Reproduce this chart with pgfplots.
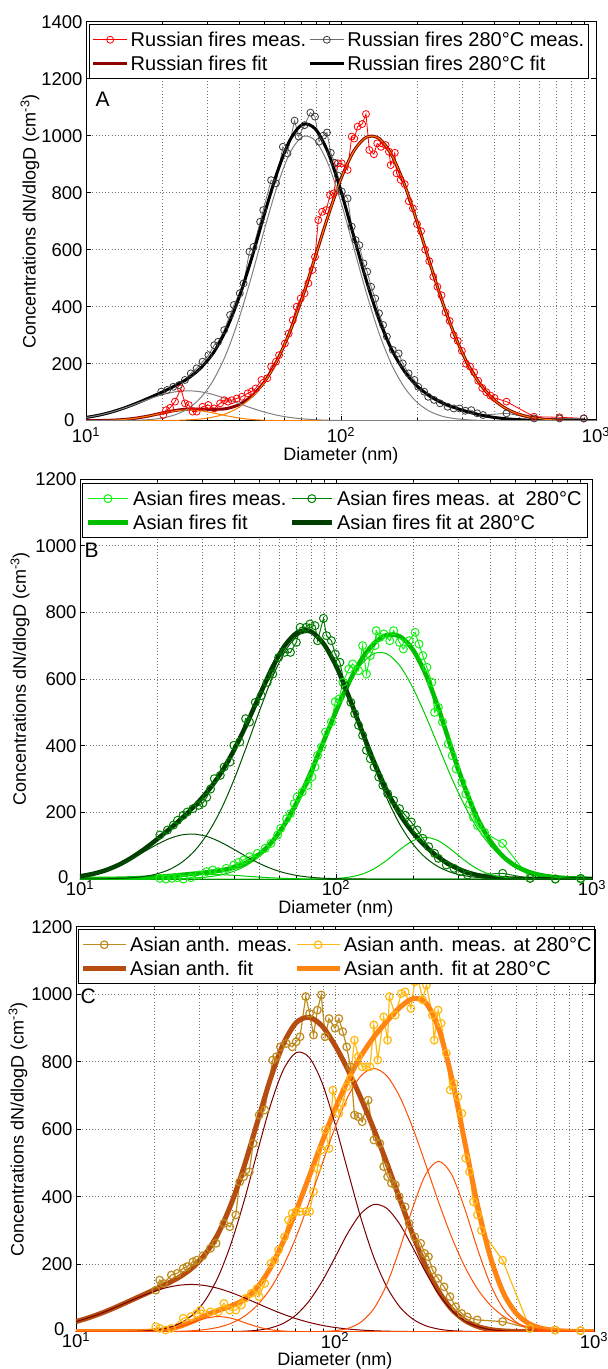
\documentclass[border=0pt]{standalone}
\usepackage{fontspec}
\setmainfont{Liberation Sans}
\usepackage{pgfplots}
\pgfplotsset{compat=1.18}
\newcommand\fsT{\fontsize{18.5}{22}\selectfont}
\newcommand\fsL{\fontsize{18}{22}\selectfont}
\newcommand\fsG{\fontsize{20}{23}\selectfont}
\newcommand\fsP{\fontsize{21}{24}\selectfont}
\newcommand\zerolab[1]{\raisebox{#1}{0}\rule{8pt}{0pt}}
\definecolor{rf}{RGB}{255,0,0}
\definecolor{rffit}{RGB}{140,0,0}
\definecolor{rmode}{RGB}{255,128,0}
\definecolor{gmode}{RGB}{128,128,128}
\definecolor{bline}{RGB}{110,110,110}
\definecolor{bmark}{RGB}{55,55,55}
\definecolor{afm}{RGB}{20,240,20}
\definecolor{aff}{RGB}{0,190,0}
\definecolor{afmode}{RGB}{0,205,0}
\definecolor{afm2}{RGB}{0,125,0}
\definecolor{aff2}{RGB}{0,62,0}
\definecolor{afmode2}{RGB}{0,80,0}
\definecolor{aam}{RGB}{190,140,30}
\definecolor{aam2}{RGB}{255,185,20}
\definecolor{aaf}{RGB}{182,76,16}
\definecolor{aaf2}{RGB}{255,132,18}
\definecolor{maroon}{RGB}{120,0,0}
\definecolor{ored}{RGB}{255,80,0}
% x values are log10 of the diameter in nm (log-labelled axis)
\pgfplotsset{
  base/.style={
    scale only axis,
    xmin=1, xmax=3, ymin=0,
    xtick={1,2,3},
    xticklabels={10\textsuperscript{1},10\textsuperscript{2},10\textsuperscript{3}},
    minor xtick={1.30103,1.47712,1.60206,1.69897,1.77815,1.84510,1.90309,1.95424,2.30103,2.47712,2.60206,2.69897,2.77815,2.84510,2.90309,2.95424},
    tick align=inside,
    major tick length=5pt, minor tick length=3pt,
    tick style={black, line width=0.6pt},
    xmajorgrids, xminorgrids, ymajorgrids,
    major grid style={black!55, line width=0.6pt, dash pattern=on 0.6pt off 2.6pt},
    minor grid style={black!55, line width=0.6pt, dash pattern=on 0.6pt off 2.6pt},
    axis line style={line width=0.8pt},
    tick label style={font=\fsT},
    label style={font=\fsL},
    xlabel={Diameter (nm)},
    ylabel={Concentrations dN/dlogD (cm\textsuperscript{-3})},
    legend columns=2,
    legend cell align=left,
    legend style={font=\fsG, draw=black, line width=1.3pt, fill=white, inner ysep=5pt,
      row sep=4pt,
      /tikz/every even column/.append style={column sep=0pt}},
  },
  lim/.style={legend image code/.code={\draw[mark repeat=2,mark phase=2,##1] plot coordinates {(0pt,0pt) (#1,0pt) (2*#1,0pt)};}},
}
\begin{document}
\begin{tikzpicture}
\path[use as bounding box] (0pt,0pt) rectangle (608pt,-1369pt);

%================ A =================
\begin{axis}[base, lim=17pt,
  at={(86pt,-420.7pt)}, anchor=south west, width=510pt, height=399pt,
  ymax=1400,
  ytick={0,200,400,600,800,1000,1200,1400},
  yticklabels={\zerolab{2pt},200,400,600,800,1000,1200,1400},
  xticklabel style={yshift=-3pt},
  xlabel style={at={(axis description cs:0.5,-0.087)}, anchor=center},
  ylabel style={at={(axis description cs:-0.1098,0.5)}, anchor=center},
  legend style={at={(0.006,0.994)}, anchor=north west, inner xsep=2pt, nodes={inner xsep=2pt, inner ysep=2pt}},
]
\addplot[rf, line width=0.8pt, mark=o, mark size=3.5pt] coordinates {
(1.303,20)(1.314,37)(1.330,45)(1.349,67)(1.372,113)(1.388,61)(1.403,55)(1.418,32)(1.434,32)(1.457,49)(1.480,55)(1.503,43)(1.526,61)(1.542,72)(1.557,67)(1.572,72)(1.591,78)(1.611,84)(1.634,96)(1.649,102)(1.665,113)(1.688,143)(1.711,149)(1.726,190)(1.745,207)(1.757,230)(1.780,271)(1.795,306)(1.811,353)(1.826,400)(1.842,429)(1.857,447)(1.872,482)(1.888,529)(1.898,575)(1.911,704)(1.926,733)(1.942,739)(1.957,792)(1.972,798)(1.988,903)(2.003,903)(2.026,880)(2.042,997)(2.052,990)(2.065,1032)(2.083,1041)(2.098,1076)(2.111,950)(2.129,935)(2.142,973)(2.157,961)(2.175,967)(2.188,944)(2.195,897)(2.211,940)(2.218,868)(2.234,845)(2.250,830)(2.266,770)(2.282,745)(2.298,690)(2.314,665)(2.330,600)(2.346,560)(2.362,505)(2.378,470)(2.394,440)(2.410,380)(2.426,350)(2.442,300)(2.458,280)(2.474,245)(2.490,200)(2.506,190)(2.522,170)(2.538,140)(2.554,115)(2.570,100)(2.586,88)(2.602,80)(2.649,67)(2.757,14)(2.857,12)(2.952,8)};
\addlegendentry{Russian fires meas.}
\addplot[bline, line width=0.8pt, mark=o, mark size=3.5pt, mark options={draw=bmark}] coordinates {
(1.295,102)(1.318,108)(1.342,119)(1.365,125)(1.388,143)(1.411,166)(1.434,184)(1.457,207)(1.480,230)(1.503,265)(1.518,277)(1.542,318)(1.565,371)(1.580,406)(1.603,447)(1.618,482)(1.641,593)(1.657,610)(1.683,698)(1.695,739)(1.726,844)(1.745,833)(1.772,961)(1.790,938)(1.818,1053)(1.834,997)(1.857,1037)(1.880,1081)(1.898,1067)(1.914,979)(1.930,1000)(1.945,1011)(1.960,940)(1.975,905)(1.988,860)(2.003,804)(2.026,780)(2.042,681)(2.057,634)(2.072,616)(2.088,552)(2.103,523)(2.118,470)(2.134,429)(2.149,377)(2.165,336)(2.180,295)(2.203,248)(2.226,236)(2.242,201)(2.265,166)(2.288,143)(2.303,119)(2.326,102)(2.342,84)(2.365,73)(2.388,61)(2.418,49)(2.442,43)(2.465,43)(2.488,35)(2.511,37)(2.534,26)(2.557,20)(2.649,26)(2.757,8)(2.857,8)(2.952,8)};
\addlegendentry{Russian fires 280°C meas.}
\addplot[rffit, line width=3pt, smooth] coordinates {
(1.00,0.1)(1.05,0.5)(1.10,1.7)(1.15,4.3)(1.20,9.5)(1.25,17.4)(1.30,27.4)(1.35,36.0)(1.40,40.8)(1.45,40.8)(1.50,39.9)(1.55,42.4)(1.60,56.5)(1.65,86.3)(1.70,136.7)(1.75,212.5)(1.80,313)(1.85,437)(1.90,578)(1.95,720)(2.00,849)(2.05,946)(2.10,995)(2.15,990)(2.20,930)(2.25,826)(2.30,693)(2.35,549)(2.40,411)(2.45,291)(2.50,194)(2.55,123)(2.60,73)(2.65,41)(2.70,22)(2.75,11)(2.80,5)(2.85,2.4)(2.90,1)(2.95,0.4)(3.00,0)};
\addlegendentry{Russian fires fit}
\addplot[black, line width=3pt, smooth] coordinates {
(1.00,11.4)(1.05,19.3)(1.10,30.4)(1.15,44.8)(1.20,62)(1.25,81)(1.30,101)(1.35,123)(1.40,148.5)(1.45,185)(1.50,239)(1.55,320)(1.60,432)(1.65,571)(1.70,726)(1.75,872)(1.80,985)(1.85,1040)(1.90,1023)(1.95,940)(2.00,805)(2.05,647)(2.10,490)(2.15,353)(2.20,247)(2.25,172)(2.30,120)(2.35,86)(2.40,62)(2.45,44.5)(2.50,30.6)(2.55,19.6)(2.60,11.6)(2.65,6.6)(2.70,3.5)(2.75,1.6)(2.80,0.7)(2.85,0.3)(2.90,0)(2.95,0)(3.00,0)};
\addlegendentry{Russian fires 280°C fit}
% modes
\addplot[rmode, line width=1pt, smooth, forget plot] coordinates {
(1.00,0)(1.05,0)(1.10,0)(1.15,0)(1.20,0)(1.25,0.2)(1.30,0.5)(1.35,1.2)(1.40,2.8)(1.45,6)(1.50,13)(1.55,25)(1.60,47)(1.65,82)(1.70,135)(1.75,212)(1.80,313)(1.85,437)(1.90,578)(1.95,720)(2.00,849)(2.05,946)(2.10,995)(2.15,990)(2.20,930)(2.25,826)(2.30,693)(2.35,549)(2.40,411)(2.45,291)(2.50,194)(2.55,123)(2.60,73)(2.65,41)(2.70,22)(2.75,11)(2.80,5)(2.85,2.4)(2.90,1)(2.95,0.4)(3.00,0)};
\addplot[rmode, line width=1pt, smooth, forget plot] coordinates {
(1.00,0.1)(1.05,0.5)(1.10,1.7)(1.15,4.3)(1.20,9.5)(1.25,17.4)(1.30,26.9)(1.35,34.8)(1.40,38)(1.45,34.8)(1.50,26.9)(1.55,17.4)(1.60,9.5)(1.65,4.3)(1.70,1.7)(1.75,0.5)(1.80,0.1)(1.85,0)(2.00,0)(2.50,0)(3.00,0)};
\addplot[gmode, line width=1pt, smooth, forget plot] coordinates {
(1.00,0)(1.05,0.1)(1.10,0.2)(1.15,0.6)(1.20,1.6)(1.25,4)(1.30,9.4)(1.35,21)(1.40,42)(1.45,81)(1.50,143)(1.55,235)(1.60,359)(1.65,509)(1.70,672)(1.75,824)(1.80,940)(1.85,997)(1.90,982)(1.95,900)(2.00,766)(2.05,607)(2.10,447)(2.15,305)(2.20,194)(2.25,115)(2.30,63)(2.35,32)(2.40,15)(2.45,7)(2.50,3)(2.55,1)(2.60,0)(2.80,0)(3.00,0)};
\addplot[gmode, line width=1pt, smooth, forget plot] coordinates {
(1.00,11.4)(1.05,19.2)(1.10,30.2)(1.15,44.2)(1.20,60.3)(1.25,76.9)(1.30,91.4)(1.35,101.4)(1.40,105)(1.45,101.4)(1.50,91.4)(1.55,76.9)(1.60,60.3)(1.65,44.2)(1.70,30.2)(1.75,19.2)(1.80,11.4)(1.85,6.4)(1.90,3.3)(1.95,1.6)(2.00,0.7)(2.05,0.3)(2.10,0.1)(2.15,0)(2.50,0)(3.00,0)};
\node[font=\fsP, anchor=west] at (rel axis cs:0.012,0.805) {A};
\end{axis}

%================ B =================
\begin{axis}[base, lim=20pt,
  at={(80pt,-879pt)}, anchor=south west, width=512pt, height=400pt,
  ymax=1200,
  ytick={0,200,400,600,800,1000,1200},
  yticklabels={\zerolab{4pt},200,400,600,800,1000,1200},
  xticklabel style={yshift=2pt},
  xlabel style={at={(axis description cs:0.5,-0.074)}, anchor=center},
  ylabel style={at={(axis description cs:-0.117,0.5)}, anchor=center},
  legend style={at={(0.004,0.99)}, anchor=north west, inner xsep=3pt, nodes={inner xsep=3pt, inner ysep=2pt}},
]
\addplot[afm, line width=1pt, mark=o, mark size=4pt] coordinates {
(1.312,2)(1.335,0)(1.358,2)(1.381,4)(1.403,0)(1.434,4)(1.464,12)(1.495,22)(1.518,27)(1.540,22)(1.571,32)(1.601,42)(1.620,50)(1.639,57)(1.662,67)(1.693,77)(1.723,92)(1.746,107)(1.772,132)(1.784,152)(1.807,181)(1.822,196)(1.837,226)(1.848,246)(1.868,261)(1.890,281)(1.906,306)(1.918,336)(1.928,371)(1.944,396)(1.959,441)(1.982,471)(1.997,532)(2.012,540)(2.027,590)(2.050,630)(2.065,645)(2.088,625)(2.104,700)(2.119,615)(2.134,670)(2.152,700)(2.157,745)(2.172,725)(2.187,735)(2.210,715)(2.225,745)(2.248,710)(2.263,690)(2.286,715)(2.309,740)(2.324,705)(2.339,670)(2.355,635)(2.374,590)(2.385,500)(2.400,515)(2.416,471)(2.438,405)(2.454,370)(2.469,330)(2.492,290)(2.507,255)(2.522,225)(2.537,185)(2.553,160)(2.580,140)(2.651,107)(2.758,2)(2.857,0)(2.956,0)};
\addlegendentry{Asian fires meas.}
\addplot[afm2, line width=1pt, mark=o, mark size=4pt] coordinates {
(1.312,132)(1.342,147)(1.365,162)(1.381,176)(1.403,191)(1.419,201)(1.441,211)(1.464,221)(1.480,228)(1.495,245)(1.510,270)(1.525,301)(1.548,311)(1.563,336)(1.586,351)(1.601,401)(1.624,411)(1.647,481)(1.662,471)(1.685,530)(1.708,550)(1.731,590)(1.753,615)(1.776,665)(1.799,680)(1.822,680)(1.845,710)(1.860,755)(1.883,755)(1.898,765)(1.918,760)(1.928,715)(1.951,782)(1.963,730)(1.982,715)(1.997,675)(2.015,650)(2.035,580)(2.058,530)(2.073,496)(2.088,461)(2.104,431)(2.119,386)(2.134,361)(2.149,336)(2.167,306)(2.183,281)(2.202,256)(2.225,236)(2.248,211)(2.271,191)(2.294,171)(2.317,147)(2.339,122)(2.362,97)(2.385,77)(2.400,62)(2.431,42)(2.461,32)(2.484,22)(2.514,12)(2.651,17)(2.758,2)(2.857,0)(2.956,2)};
\addlegendentry{Asian fires meas. at\ \ 280°C}
\addplot[aff, line width=4.5pt, smooth] coordinates {
(1.00,0)(1.05,0.2)(1.10,0.4)(1.15,0.9)(1.20,1.9)(1.25,3.5)(1.30,6.1)(1.35,9.1)(1.40,12.6)(1.45,16.3)(1.50,20.4)(1.55,25.7)(1.60,34.2)(1.65,49.2)(1.70,73.8)(1.75,111.5)(1.80,165)(1.85,234)(1.90,317.4)(1.95,409.7)(2.00,502.8)(2.05,588.5)(2.10,659.2)(2.15,708.2)(2.20,732.2)(2.25,727.4)(2.30,688.6)(2.35,615)(2.40,512.6)(2.45,394.4)(2.50,281.2)(2.55,186.2)(2.60,117.2)(2.65,69.5)(2.70,39.8)(2.75,22.1)(2.80,11.6)(2.85,5.9)(2.90,2.8)(2.95,1.3)(3.00,0.5)};
\addlegendentry{Asian fires fit}
\addplot[aff2, line width=4.5pt, smooth] coordinates {
(1.00,8.2)(1.05,15.3)(1.10,26.2)(1.15,42.1)(1.20,63.2)(1.25,89.1)(1.30,118.6)(1.35,150.3)(1.40,184)(1.45,221.1)(1.50,264.5)(1.55,317.4)(1.60,384.5)(1.65,463.3)(1.70,548.9)(1.75,632.4)(1.80,700.3)(1.85,740.2)(1.90,743.3)(1.95,707.5)(2.00,639.8)(2.05,547.5)(2.10,446.6)(2.15,348.9)(2.20,262.9)(2.25,193.3)(2.30,139.6)(2.35,97.9)(2.40,65.6)(2.45,41)(2.50,23.5)(2.55,12.2)(2.60,5.6)(2.65,2.4)(2.70,0.9)(2.75,0.2)(2.80,0)(2.90,0)(3.00,0)};
\addlegendentry{Asian fires fit at 280°C}
% modes
\addplot[afmode, line width=1pt, smooth, forget plot] coordinates {
(1.00,0)(1.10,0)(1.20,0)(1.25,0.1)(1.30,0.3)(1.35,0.6)(1.40,1.4)(1.45,3.1)(1.50,6.4)(1.55,12.5)(1.60,23)(1.65,40.7)(1.70,68)(1.75,108)(1.80,163)(1.85,233)(1.90,317)(1.95,409)(2.00,501)(2.05,583)(2.10,645)(2.15,677)(2.20,675)(2.25,639)(2.30,574)(2.35,490)(2.40,398)(2.45,306)(2.50,224)(2.55,155)(2.60,103)(2.65,64)(2.70,38)(2.75,21.6)(2.80,11.6)(2.85,5.9)(2.90,2.8)(2.95,1.3)(3.00,0.5)};
\addplot[afmode, line width=1pt, smooth, forget plot] coordinates {
(1.00,0)(1.50,0)(1.90,0)(1.95,0.5)(2.00,1.8)(2.05,5.5)(2.10,14.2)(2.15,31.2)(2.20,57.2)(2.25,88.4)(2.30,114.6)(2.35,125)(2.40,114.6)(2.45,88.4)(2.50,57.2)(2.55,31.2)(2.60,14.2)(2.65,5.5)(2.70,1.8)(2.75,0.5)(2.80,0)(3.00,0)};
\addplot[afmode, line width=1pt, smooth, forget plot] coordinates {
(1.00,0.05)(1.05,0.16)(1.10,0.4)(1.15,0.9)(1.20,1.9)(1.25,3.5)(1.30,5.8)(1.35,8.5)(1.40,11.2)(1.45,13.2)(1.50,14)(1.55,13.2)(1.60,11.2)(1.65,8.5)(1.70,5.8)(1.75,3.5)(1.80,1.9)(1.85,0.9)(1.90,0.4)(1.95,0.16)(2.00,0.05)(2.10,0)(2.50,0)(3.00,0)};
\addplot[afmode2, line width=1pt, smooth, forget plot] coordinates {
(1.00,0.1)(1.05,0.3)(1.10,0.7)(1.15,1.6)(1.20,3.6)(1.25,7.6)(1.30,15.3)(1.35,28.8)(1.40,51.3)(1.45,86.6)(1.50,138)(1.55,207)(1.60,295)(1.65,396)(1.70,502)(1.75,602)(1.80,682)(1.85,730)(1.90,738)(1.95,705)(2.00,637)(2.05,543)(2.10,438)(2.15,334)(2.20,240)(2.25,163)(2.30,105)(2.35,63.8)(2.40,36.6)(2.45,19.8)(2.50,10.1)(2.55,4.9)(2.60,2.2)(2.65,1)(2.70,0.4)(2.75,0.2)(2.80,0)(3.00,0)};
\addplot[afmode2, line width=1pt, smooth, forget plot] coordinates {
(1.00,8.1)(1.05,15)(1.10,25.5)(1.15,40.5)(1.20,59.6)(1.25,81.5)(1.30,103.3)(1.35,121.5)(1.40,132.7)(1.45,134.5)(1.50,126.5)(1.55,110.4)(1.60,89.5)(1.65,67.3)(1.70,46.9)(1.75,30.4)(1.80,18.3)(1.85,10.2)(1.90,5.3)(1.95,2.5)(2.00,1.1)(2.05,0.5)(2.10,0.2)(2.15,0)(2.50,0)(3.00,0)};
\node[font=\fsP, anchor=west] at (rel axis cs:0.002,0.821) {B};
\end{axis}

%================ C =================
\begin{axis}[base, lim=21.5pt,
  at={(76pt,-1331.7pt)}, anchor=south west, width=518pt, height=405pt,
  ymax=1200,
  ytick={0,200,400,600,800,1000,1200},
  yticklabels={\zerolab{6pt},200,400,600,800,1000,1200},
  xticklabel style={yshift=2.5pt},
  xlabel style={at={(axis description cs:0.5,-0.072)}, anchor=center},
  ylabel style={at={(axis description cs:-0.112,0.5)}, anchor=center},
  legend style={at={(0.004,0.994)}, anchor=north west, inner xsep=1.5pt, nodes={inner xsep=2pt, inner ysep=2pt}},
]
\addplot[aam, line width=1.2pt, mark=o, mark size=3.8pt] coordinates {
(1.308,123)(1.323,153)(1.338,143)(1.368,168)(1.391,173)(1.414,188)(1.429,193)(1.451,207)(1.466,212)(1.490,225)(1.519,247)(1.541,262)(1.571,321)(1.594,311)(1.617,346)(1.632,444)(1.647,459)(1.669,474)(1.684,558)(1.707,642)(1.729,657)(1.759,805)(1.774,815)(1.789,844)(1.812,854)(1.835,844)(1.850,859)(1.865,874)(1.887,993)(1.902,943)(1.917,879)(1.932,953)(1.947,998)(1.962,874)(1.977,928)(2.000,899)(2.015,928)(2.030,889)(2.045,844)(2.060,785)(2.075,642)(2.090,637)(2.105,622)(2.128,686)(2.150,568)(2.173,558)(2.188,489)(2.203,459)(2.218,440)(2.233,435)(2.248,400)(2.271,370)(2.286,321)(2.308,281)(2.331,262)(2.346,232)(2.361,222)(2.376,183)(2.398,158)(2.421,133)(2.444,104)(2.466,74)(2.489,54)(2.511,44)(2.549,35)(2.647,30)(2.752,10)(2.850,5)(2.948,3)};
\addlegendentry{Asian anth. meas.}
\addplot[aam2, line width=1.2pt, mark=o, mark size=3.8pt] coordinates {
(1.308,15)(1.323,10)(1.346,5)(1.368,10)(1.414,40)(1.444,45)(1.466,54)(1.481,64)(1.519,59)(1.549,59)(1.571,84)(1.594,64)(1.617,64)(1.639,79)(1.654,99)(1.677,114)(1.699,128)(1.707,104)(1.729,143)(1.752,202)(1.767,212)(1.782,242)(1.805,281)(1.820,331)(1.835,351)(1.850,356)(1.865,356)(1.887,356)(1.902,356)(1.917,415)(1.932,484)(1.947,538)(1.962,598)(1.977,543)(1.992,716)(2.015,647)(2.030,677)(2.045,726)(2.060,751)(2.075,864)(2.090,815)(2.105,785)(2.120,785)(2.135,785)(2.150,909)(2.165,805)(2.188,933)(2.203,864)(2.210,993)(2.233,938)(2.256,1002)(2.271,1007)(2.293,958)(2.308,1037)(2.320,1052)(2.338,983)(2.353,1027)(2.376,938)(2.383,864)(2.398,953)(2.410,914)(2.430,825)(2.445,716)(2.460,736)(2.475,696)(2.490,647)(2.504,514)(2.519,474)(2.534,385)(2.550,346)(2.565,300)(2.647,212)(2.752,10)(2.850,5)(2.948,3)};
\addlegendentry{Asian anth. meas. at 280°C}
\addplot[aaf, line width=5pt, smooth] coordinates {
(1.00,30)(1.05,41.7)(1.10,55.5)(1.15,71.3)(1.20,88.6)(1.25,106)(1.30,123.5)(1.35,141.6)(1.40,162.2)(1.45,189.9)(1.50,230.8)(1.55,292.5)(1.60,380.3)(1.65,492.1)(1.70,620.2)(1.75,747.2)(1.80,851.6)(1.85,915.5)(1.90,931.5)(1.95,905.9)(2.00,848.5)(2.05,776)(2.10,691.9)(2.15,599.9)(2.20,500.1)(2.25,393.2)(2.30,288.2)(2.35,194.5)(2.40,120.1)(2.45,67.3)(2.50,34.2)(2.55,15.7)(2.60,6.4)(2.65,2.4)(2.70,0.8)(2.75,0.3)(2.80,0)(2.90,0)(3.00,0)};
\addlegendentry{Asian anth. fit}
\addplot[aaf2, line width=5pt, smooth] coordinates {
(1.00,0)(1.10,0)(1.20,0)(1.25,0.5)(1.30,2.2)(1.35,6.6)(1.40,15.9)(1.45,30.4)(1.50,48.3)(1.55,63.4)(1.60,76.6)(1.65,95.7)(1.70,131.1)(1.75,188.1)(1.80,266.5)(1.85,358.5)(1.90,459.1)(1.95,561.8)(2.00,659)(2.05,745.4)(2.10,816.4)(2.15,873.2)(2.20,919.3)(2.25,960.5)(2.30,986.8)(2.35,975.1)(2.40,899)(2.45,754.1)(2.50,566.3)(2.55,375.9)(2.60,220.9)(2.65,115.3)(2.70,54.3)(2.75,23.5)(2.80,9.7)(2.85,3.9)(2.90,1.5)(2.95,0.5)(3.00,0.2)};
\addlegendentry{Asian anth. fit at 280°C}
% modes
\addplot[maroon, line width=1pt, smooth, forget plot] coordinates {
(1.00,30)(1.05,41.7)(1.10,55.5)(1.15,71.3)(1.20,88)(1.25,104.3)(1.30,119)(1.35,130.7)(1.40,137.9)(1.45,140)(1.50,136.6)(1.55,128.2)(1.60,115.8)(1.65,100.5)(1.70,83.9)(1.75,67.3)(1.80,52)(1.85,38.6)(1.90,27.6)(1.95,18.9)(2.00,12.5)(2.05,8)(2.10,4.9)(2.15,2.9)(2.20,1.6)(2.25,0.9)(2.30,0.5)(2.35,0.2)(2.40,0)(2.70,0)(3.00,0)};
\addplot[maroon, line width=1pt, smooth, forget plot] coordinates {
(1.00,0)(1.10,0)(1.15,0.1)(1.20,0.6)(1.25,1.7)(1.30,4.5)(1.35,10.9)(1.40,24.3)(1.45,49.9)(1.50,94.2)(1.55,164.3)(1.60,264)(1.65,390)(1.70,532)(1.75,669)(1.80,775)(1.85,827)(1.90,813)(1.95,738)(2.00,616)(2.05,475)(2.10,337)(2.15,220)(2.20,133)(2.25,73.6)(2.30,37.7)(2.35,17.8)(2.40,7.8)(2.45,3.1)(2.50,1.2)(2.55,0.4)(2.60,0)(2.80,0)(3.00,0)};
\addplot[maroon, line width=1pt, smooth, forget plot] coordinates {
(1.00,0)(1.40,0)(1.55,0)(1.60,0.5)(1.65,1.6)(1.70,4.3)(1.75,10.9)(1.80,24.6)(1.85,49.9)(1.90,90.9)(1.95,149)(2.00,220)(2.05,293)(2.10,350)(2.15,377)(2.20,365.5)(2.25,318.7)(2.30,250)(2.35,176.5)(2.40,112.3)(2.45,64.2)(2.50,33)(2.55,15.3)(2.60,6.4)(2.65,2.4)(2.70,0.8)(2.75,0.3)(2.80,0)(3.00,0)};
\addplot[ored, line width=1pt, smooth, forget plot] coordinates {
(1.00,0)(1.20,0)(1.30,0.2)(1.35,0.5)(1.40,1.3)(1.45,3)(1.50,6.5)(1.55,13.2)(1.60,25.3)(1.65,45.8)(1.70,78.5)(1.75,127)(1.80,194.5)(1.85,281)(1.90,384)(1.95,496)(2.00,604.5)(2.05,696.5)(2.10,758)(2.15,780)(2.20,758)(2.25,696.5)(2.30,604.5)(2.35,496)(2.40,384)(2.45,281)(2.50,194.5)(2.55,127)(2.60,78.5)(2.65,45.8)(2.70,25.3)(2.75,13.2)(2.80,6.5)(2.85,3)(2.90,1.3)(2.95,0.5)(3.00,0.2)};
\addplot[ored, line width=1pt, smooth, forget plot] coordinates {
(1.00,0)(1.50,0)(1.90,0)(1.95,0.8)(2.00,3)(2.05,10)(2.10,28.4)(2.15,68.3)(2.20,140.4)(2.25,245.9)(2.30,366.8)(2.35,466.1)(2.40,505)(2.45,466.1)(2.50,366.8)(2.55,245.9)(2.60,140.4)(2.65,68.3)(2.70,28.4)(2.75,10)(2.80,3)(2.85,0.8)(2.90,0.2)(2.95,0)(3.00,0)};
\addplot[ored, line width=1pt, smooth, forget plot] coordinates {
(1.00,0)(1.15,0)(1.20,0.1)(1.25,0.5)(1.30,2)(1.35,6.1)(1.40,14.6)(1.45,27.3)(1.50,39.7)(1.55,45)(1.60,39.7)(1.65,27.3)(1.70,14.6)(1.75,6.1)(1.80,2)(1.85,0.5)(1.90,0.1)(1.95,0)(2.50,0)(3.00,0)};
\node[font=\fsP, anchor=west] at (rel axis cs:0.002,0.828) {C};
\end{axis}
\end{tikzpicture}
\end{document}
